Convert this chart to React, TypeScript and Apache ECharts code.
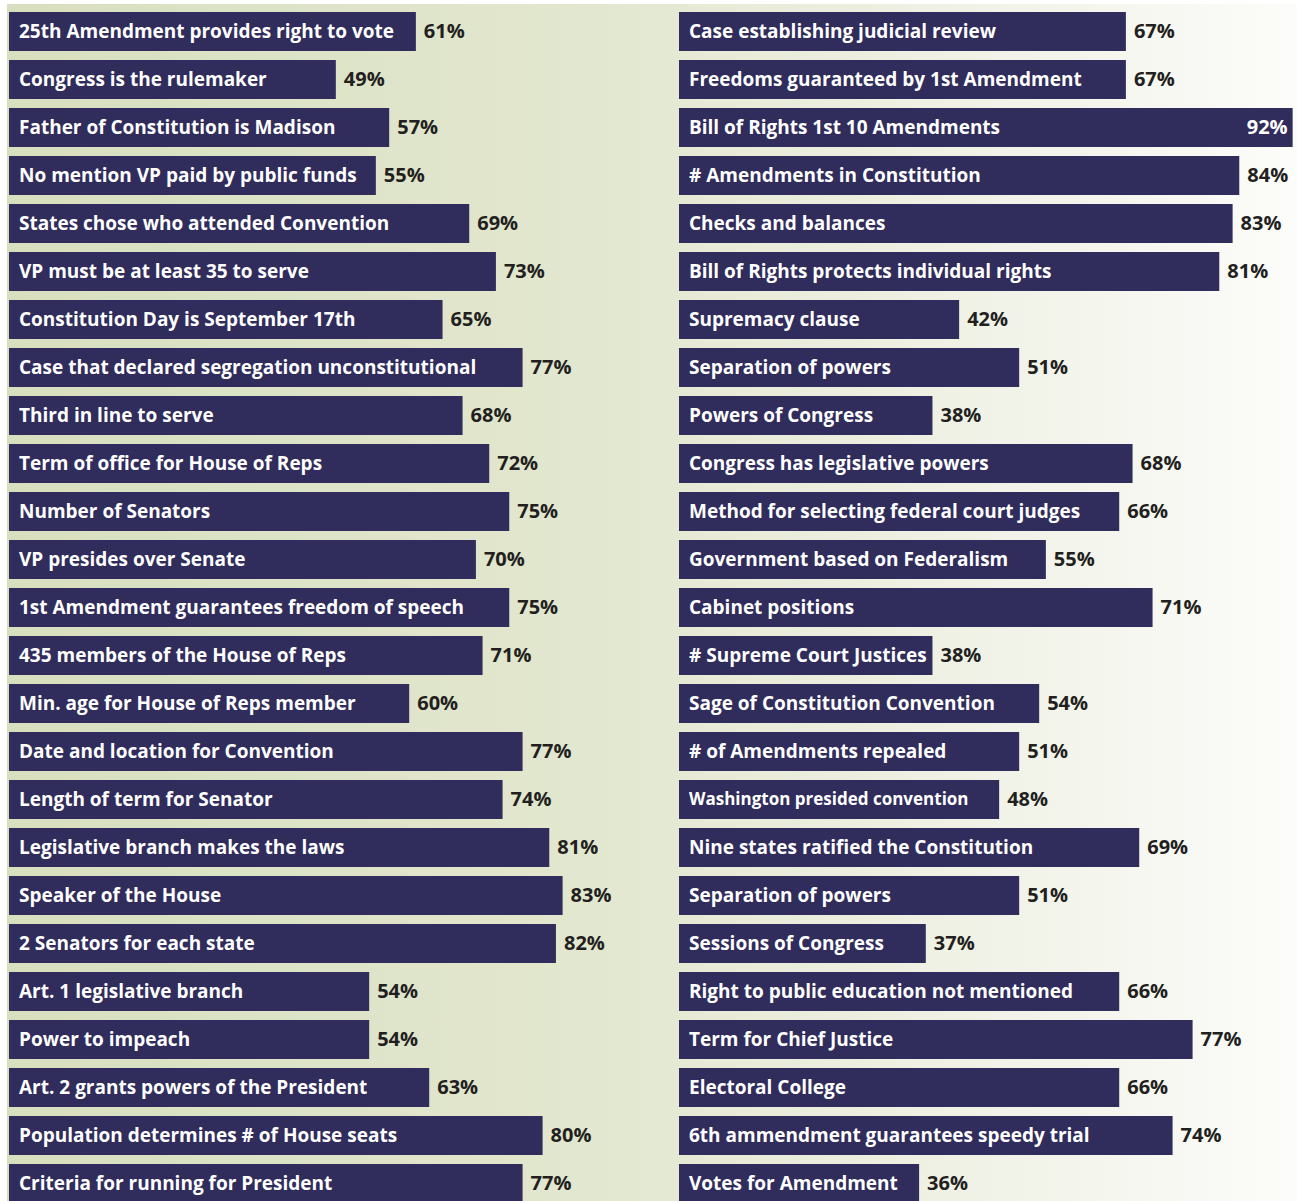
import React, { useEffect, useRef } from "react";
import * as echarts from "echarts";

const leftCategories: string[] = [
  "25th Amendment provides right to vote",
  "Congress is the rulemaker",
  "Father of Constitution is Madison",
  "No mention VP paid by public funds",
  "States chose who attended Convention",
  "VP must be at least 35 to serve",
  "Constitution Day is September 17th",
  "Case that declared segregation unconstitutional",
  "Third in line to serve",
  "Term of office for House of Reps",
  "Number of Senators",
  "VP presides over Senate",
  "1st Amendment guarantees freedom of speech",
  "435 members of the House of Reps",
  "Min. age for House of Reps member",
  "Date and location for Convention",
  "Length of term for Senator",
  "Legislative branch makes the laws",
  "Speaker of the House",
  "2 Senators for each state",
  "Art. 1 legislative branch",
  "Power to impeach",
  "Art. 2 grants powers of the President",
  "Population determines # of House seats",
  "Criteria for running for President",
];
const leftValues: number[] = [
  61, 49, 57, 55, 69, 73, 65, 77, 68, 72, 75, 70, 75, 71, 60, 77, 74, 81, 83, 82, 54, 54, 63, 80, 77,
];

const rightCategories: string[] = [
  "Case establishing judicial review",
  "Freedoms guaranteed by 1st Amendment",
  "Bill of Rights 1st 10 Amendments",
  "# Amendments in Constitution",
  "Checks and balances",
  "Bill of Rights protects individual rights",
  "Supremacy clause",
  "Separation of powers",
  "Powers of Congress",
  "Congress has legislative powers",
  "Method for selecting federal court judges",
  "Government based on Federalism",
  "Cabinet positions",
  "# Supreme Court Justices",
  "Sage of Constitution Convention",
  "# of Amendments repealed",
  "Washington presided convention",
  "Nine states ratified the Constitution",
  "Separation of powers",
  "Sessions of Congress",
  "Right to public education not mentioned",
  "Term for Chief Justice",
  "Electoral College",
  "6th ammendment guarantees speedy trial",
  "Votes for Amendment",
];
const rightValues: number[] = [
  67, 67, 92, 84, 83, 81, 42, 51, 38, 68, 66, 55, 71, 38, 54, 51, 48, 69, 51, 37, 66, 77, 66, 74, 36,
];

const BAR = "#302c5c";
const TEXT = "#231f20";
const FONT = "Open Sans";

function makeSeries(names: string[], values: number[], gi: number) {
  const nameSeries = {
    type: "bar",
    xAxisIndex: gi,
    yAxisIndex: gi,
    barWidth: 39,
    barGap: "-100%",
    itemStyle: { color: BAR },
    data: values.map((v, i) => ({
      value: v,
      label:
        names[i] === "Washington presided convention"
          ? { fontSize: 17 }
          : undefined,
    })),
    label: {
      show: true,
      position: "insideLeft",
      distance: 10,
      offset: [0, -1],
      color: "#ffffff",
      fontFamily: FONT,
      fontWeight: "bold",
      fontSize: 19,
      formatter: (p: any) => names[p.dataIndex],
    },
  };
  const valueSeries = {
    type: "bar",
    xAxisIndex: gi,
    yAxisIndex: gi,
    barWidth: 39,
    barGap: "-100%",
    itemStyle: { color: "rgba(0,0,0,0)" },
    data: values.map((v) => ({
      value: v,
      label: v >= 90 ? { position: "insideRight", color: "#ffffff", distance: 5 } : undefined,
    })),
    label: {
      show: true,
      position: "right",
      distance: 8,
      offset: [0, -1],
      color: TEXT,
      fontFamily: FONT,
      fontWeight: "bold",
      fontSize: 20,
      formatter: "{c}%",
    },
  };
  return [nameSeries, valueSeries];
}

export default function App() {
  const ref = useRef<HTMLDivElement>(null);
  useEffect(() => {
    document.body.style.margin = "0";
    document.documentElement.style.overflow = "hidden";
    document.body.style.overflow = "hidden";
    const chart = echarts.init(ref.current!, null, { renderer: "svg" });
    const idx = leftValues.map((_, i) => String(i));
    const axisCommon = {
      type: "value",
      min: 0,
      max: 100,
      show: false,
    };
    const yCommon = {
      type: "category",
      data: idx,
      inverse: true,
      show: false,
    };
    chart.setOption({
      animation: false,
      backgroundColor: "#ffffff",
      graphic: [
        {
          type: "rect",
          z: -10,
          silent: true,
          shape: { x: 7, y: 4, width: 1290, height: 1220 },
          style: {
            fill: {
              type: "linear",
              x: 0,
              y: 0,
              x2: 1,
              y2: 0,
              colorStops: [
                { offset: 0, color: "#d8dfbf" },
                { offset: 0.45, color: "#e2e7cf" },
                { offset: 0.7, color: "#edf0e2" },
                { offset: 1, color: "#fcfcfa" },
              ],
            },
          },
        },
      ],
      grid: [
        { left: 9, width: 667, top: 7.5, height: 1200 },
        { left: 679, width: 667, top: 7.5, height: 1200 },
      ],
      xAxis: [
        { ...axisCommon, gridIndex: 0 },
        { ...axisCommon, gridIndex: 1 },
      ],
      yAxis: [
        { ...yCommon, gridIndex: 0 },
        { ...yCommon, gridIndex: 1 },
      ],
      series: [
        ...makeSeries(leftCategories, leftValues, 0),
        ...makeSeries(rightCategories, rightValues, 1),
      ],
    });
    return () => chart.dispose();
  }, []);
  return <div ref={ref} style={{ width: 1360, height: 1220 }} />;
}
